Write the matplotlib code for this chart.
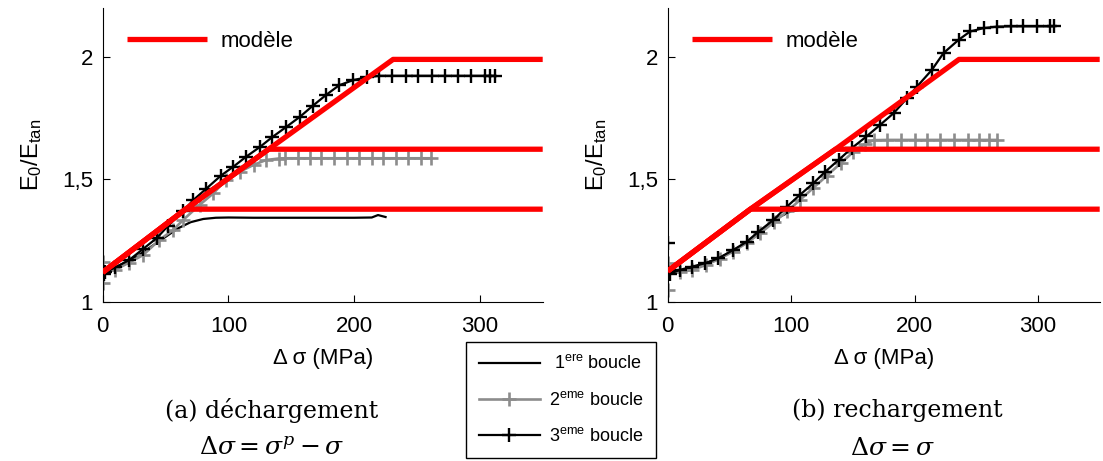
import numpy as np
import matplotlib
matplotlib.use("Agg")
import matplotlib.pyplot as plt
from matplotlib.lines import Line2D

plt.rcParams['font.family'] = ['Liberation Sans', 'DejaVu Sans']
plt.rcParams['mathtext.fontset'] = 'dejavuserif'

# ---- data ----
# (a) dechargement
x1a = [0, 10, 20, 30, 40, 50, 60, 70, 80, 90, 100, 120, 140, 160, 180, 200, 214, 219, 225]
y1a = [1.12, 1.14, 1.165, 1.195, 1.23, 1.265, 1.30, 1.325, 1.338, 1.343, 1.344, 1.343, 1.343,
       1.343, 1.343, 1.343, 1.344, 1.354, 1.346]
x2a = [0, 0, 0, 10, 21, 32, 45, 56, 64, 77, 88, 98, 109, 120, 130, 140, 145, 155, 165, 174,
       184, 194, 204, 214, 223, 233, 243, 253, 261]
y2a = [1.078, 1.164, 1.12, 1.13, 1.16, 1.19, 1.252, 1.293, 1.334, 1.395, 1.443, 1.497, 1.531,
       1.559, 1.579, 1.585, 1.586, 1.586, 1.586, 1.586, 1.586, 1.586, 1.586, 1.586, 1.586,
       1.586, 1.586, 1.586, 1.586]
x3a = [0, 1, 2, 10, 21, 32, 43, 52, 64, 72, 82, 94, 104, 114, 125, 135, 146, 157, 167, 178,
       188, 199, 210, 220, 230, 241, 251, 262, 272, 283, 293, 304, 308, 312]
y3a = [1.12, 1.115, 1.12, 1.14, 1.17, 1.215, 1.26, 1.31, 1.37, 1.415, 1.46, 1.515, 1.552,
       1.592, 1.632, 1.673, 1.714, 1.756, 1.80, 1.846, 1.884, 1.905, 1.917, 1.923, 1.923,
       1.923, 1.923, 1.923, 1.923, 1.923, 1.923, 1.923, 1.923, 1.923]
kink_xa = [66, 132, 231]
kink_ya = [1.378, 1.623, 1.99]
start_a = 1.12

# (b) rechargement
x1b = [0, 10, 20, 30, 40, 50, 60, 70, 80, 90, 100, 107, 114]
y1b = [1.12, 1.125, 1.14, 1.155, 1.175, 1.2, 1.23, 1.265, 1.305, 1.345, 1.37, 1.375, 1.375]
x2b = [0, 0, 0, 10, 20, 31, 42, 53, 64, 75, 86, 97, 107, 118, 129, 140, 150, 160, 167, 178,
       189, 200, 210, 221, 232, 243, 252, 260, 267]
y2b = [1.048, 1.157, 1.12, 1.12, 1.13, 1.15, 1.175, 1.205, 1.24, 1.28, 1.325, 1.37, 1.415,
       1.465, 1.515, 1.565, 1.61, 1.645, 1.66, 1.661, 1.661, 1.661, 1.661, 1.661, 1.661,
       1.661, 1.661, 1.661, 1.661]
x3b = [0, 0, 2, 10, 19.5, 30, 41, 53, 64, 73.5, 85.6, 96.5, 107, 118, 127.6, 138.4, 149, 161,
       172, 183, 194, 202, 214, 223.5, 235.7, 245, 256, 267, 278, 288, 299, 310, 313]
y3b = [1.239, 1.12, 1.115, 1.13, 1.143, 1.157, 1.177, 1.211, 1.245, 1.286, 1.334, 1.388,
       1.436, 1.484, 1.531, 1.579, 1.627, 1.675, 1.722, 1.770, 1.832, 1.879, 1.947, 2.016,
       2.07, 2.104, 2.118, 2.124, 2.125, 2.125, 2.125, 2.125, 2.125]
kink_xb = [67, 136, 236]
kink_yb = [1.378, 1.623, 1.99]
start_b = 1.125

xticks = [0, 100, 200, 300]
yticks = [1, 1.5, 2]
ytick_labels = ['1', '1,5', '2']
loop_labels = [' 1$^{\\mathregular{ere}}$ boucle', '2$^{\\mathregular{eme}}$ boucle',
               '3$^{\\mathregular{eme}}$ boucle']

W, H = 1103, 461
fig = plt.figure(figsize=(W / 100, H / 100), dpi=100)

GREY = '0.55'
ms = 10.5


def panel(ax, loops, kx, ky, y0):
    (xa, ya), (xb, yb), (xc, yc) = loops
    ax.plot(xa, ya, color='black', lw=1.6)
    ax.plot(xb, yb, color=GREY, lw=1.9, marker='+', ms=ms, mew=1.9)
    ax.plot(xc, yc, color='black', lw=1.6, marker='+', ms=ms, mew=1.7)
    for i in range(len(kx)):
        px = [0] + kx[:i + 1] + [350]
        py = [y0] + ky[:i + 1] + [ky[i]]
        h, = ax.plot(px, py, color='#ff0000', lw=3.8, zorder=5, solid_capstyle='butt')
    ax.set_xlim(0, 350)
    ax.set_ylim(1, 2.2)
    ax.set_xticks(xticks)
    ax.set_yticks(yticks)
    ax.set_yticklabels(ytick_labels)
    ax.spines['top'].set_visible(False)
    ax.spines['right'].set_visible(False)
    ax.tick_params(direction='in', length=5, labelsize=16)
    ax.tick_params(axis='x', pad=10)
    ax.tick_params(axis='y', pad=7)
    ax.set_xlabel('Δ σ (MPa)', fontsize=16, labelpad=8)
    ax.set_ylabel('$\\mathregular{E_0/E_{tan}}$', fontsize=17, labelpad=13)
    ax.legend([h], ['modèle'], loc='upper left', frameon=False, fontsize=16,
              handlelength=3.6, handletextpad=0.6, bbox_to_anchor=(0.02, 0.975),
              borderaxespad=0.3)


bottom = 1 - 301.7 / H
height = 293.7 / H
axL = fig.add_axes([102.7 / W, bottom, 440 / W, height])
axR = fig.add_axes([667.7 / W, bottom, 432 / W, height])

panel(axL, [(x1a, y1a), (x2a, y2a), (x3a, y3a)], kink_xa, kink_ya, start_a)
panel(axR, [(x1b, y1b), (x2b, y2b), (x3b, y3b)], kink_xb, kink_yb, start_b)

handles = [Line2D([], [], color='black', lw=1.6),
           Line2D([], [], color=GREY, lw=1.9, marker='+', ms=ms, mew=1.9),
           Line2D([], [], color='black', lw=1.6, marker='+', ms=ms, mew=1.7)]
leg = fig.legend(handles, loop_labels, loc='lower left', bbox_to_anchor=(466 / W, 3 / H),
                 fontsize=13, handlelength=3.4, handletextpad=0.5, fancybox=False,
                 edgecolor='black', framealpha=1, borderaxespad=0, labelspacing=1.0,
                 borderpad=0.7)
leg.get_frame().set_linewidth(1.0)

serif = ['DejaVu Serif']
fig.text(272 / W, 1 - 410 / H, '(a) déchargement', ha='center', va='center',
         fontsize=17, family=serif)
fig.text(272 / W, 1 - 448 / H, '$\\Delta\\sigma = \\sigma^{p} - \\sigma$', ha='center',
         va='center', fontsize=18)
fig.text(897 / W, 1 - 410 / H, '(b) rechargement', ha='center', va='center',
         fontsize=17, family=serif)
fig.text(893 / W, 1 - 448 / H, '$\\Delta\\sigma = \\sigma$', ha='center', va='center',
         fontsize=18)

fig.savefig('out.png', dpi=100)
